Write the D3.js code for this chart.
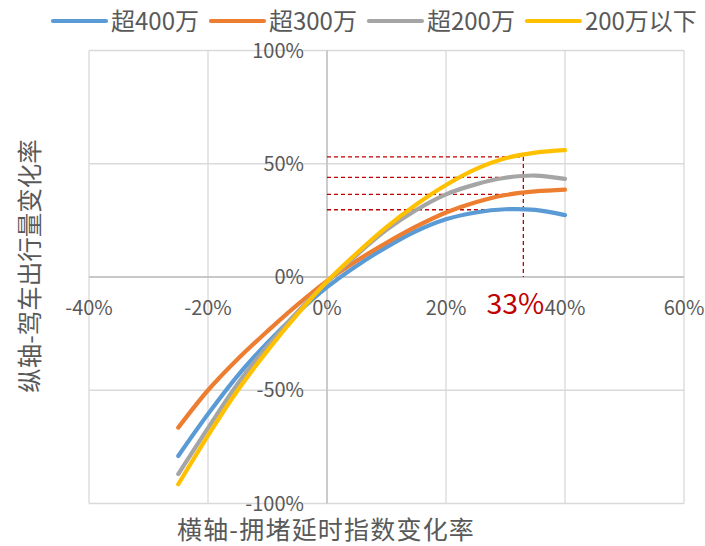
<!DOCTYPE html>
<html>
<head>
<meta charset="utf-8">
<script src="https://cdn.jsdelivr.net/npm/d3@7"></script>
<style>
  html, body { margin: 0; padding: 0; background: #ffffff; }
  svg { display: block; font-family: "Noto Sans CJK SC", "Noto Sans", sans-serif; }
</style>
</head>
<body>
<svg id="chart" width="705" height="546"></svg>
<script>
// Congestion-delay index change (x) vs. driving trip volume change (y), in %
const xValues = [-25, -20, -15, -10, -5, 0, 5, 10, 15, 20, 25, 30, 35, 40];
const seriesNames = ["超400万", "超300万", "超200万", "200万以下"];
const over400 = [-79, -60.5, -43.5, -29, -16, -4.5, 5, 13.2, 20.3, 25.5, 28.5, 29.9, 29.6, 27.3];
const over300 = [-66.5, -50, -36.2, -23.9, -12.3, -1.7, 7.2, 15.1, 22.3, 28.5, 33, 36.2, 37.8, 38.6];
const over200 = [-87, -66.7, -47.1, -30.5, -15.5, -2.2, 9.8, 20.8, 29.6, 36.5, 40.9, 43.8, 44.8, 43.3];
const under200 = [-91.5, -70, -50, -32.5, -16.5, -2, 10.5, 22, 32, 40.6, 47.6, 52.4, 54.9, 56];
const seriesColors = ["#5B9BD5", "#ED7D31", "#A5A5A5", "#FFC000"];

// Reference marker: x position and the four curve readings there
const markerX = 33;
const markerY = [29.7, 36.5, 44, 53];
const markerLabel = "33%";

const xTicks = [-40, -20, 0, 20, 40, 60];
const yTicks = [-100, -50, 0, 50, 100];
const xTitle = "横轴-拥堵延时指数变化率";
const yTitle = "纵轴-驾车出行量变化率";

const seriesValues = [over400, over300, over200, under200];

const svg = d3.select("#chart");
const x = d3.scaleLinear().domain([-40, 60]).range([89, 684]);
const y = d3.scaleLinear().domain([-100, 100]).range([503.5, 50.5]);
const pct = d => d + "%";

// Gridlines
const grid = svg.append("g").attr("stroke", "#D9D9D9").attr("stroke-width", 1.3);
grid.selectAll("line.v").data(xTicks).join("line")
  .attr("x1", d => x(d)).attr("x2", d => x(d))
  .attr("y1", y(100)).attr("y2", y(-100));
grid.selectAll("line.h").data(yTicks).join("line")
  .attr("x1", x(-40)).attr("x2", x(60))
  .attr("y1", d => y(d)).attr("y2", d => y(d));

// Zero axes
const axes = svg.append("g").attr("stroke", "#BFBFBF").attr("stroke-width", 1.3);
axes.append("line").attr("x1", x(0)).attr("x2", x(0)).attr("y1", y(100)).attr("y2", y(-100));
axes.append("line").attr("x1", x(-40)).attr("x2", x(60)).attr("y1", y(0)).attr("y2", y(0));

// Tick labels
const tickFont = 20;
svg.append("g").selectAll("text").data(yTicks).join("text")
  .attr("x", x(0) - 23).attr("y", d => y(d) + 7)
  .attr("text-anchor", "end").attr("font-size", tickFont).attr("fill", "#595959")
  .text(pct);
svg.append("g").selectAll("text").data(xTicks).join("text")
  .attr("x", d => x(d)).attr("y", y(0) + 38)
  .attr("text-anchor", "middle").attr("font-size", tickFont).attr("fill", "#595959")
  .text(pct);

// Dashed reference lines
const ref = svg.append("g").attr("stroke", "#C00000").attr("stroke-width", 1.3)
  .attr("stroke-dasharray", "4,3").attr("fill", "none");
ref.selectAll("line.h").data(markerY).join("line")
  .attr("x1", x(0)).attr("x2", x(markerX))
  .attr("y1", d => y(d)).attr("y2", d => y(d));
ref.append("line")
  .attr("x1", x(markerX)).attr("x2", x(markerX))
  .attr("y1", y(d3.max(markerY))).attr("y2", y(0));

// Curves
const line = d3.line()
  .x((d, i) => x(xValues[i]))
  .y(d => y(d))
  .curve(d3.curveCatmullRom.alpha(0.5));
svg.append("g").selectAll("path").data(seriesValues).join("path")
  .attr("d", d => line(d))
  .attr("fill", "none")
  .attr("stroke", (d, i) => seriesColors[i])
  .attr("stroke-width", 4.2)
  .attr("stroke-linecap", "round")
  .attr("stroke-linejoin", "round");

// Marker label
svg.append("text")
  .attr("x", x(markerX) - 8).attr("y", y(0) + 36.5)
  .attr("text-anchor", "middle").attr("font-size", 28.5).attr("fill", "#C00000")
  .text(markerLabel);

// Axis titles
svg.append("text")
  .attr("x", 326).attr("y", 539)
  .attr("text-anchor", "middle").attr("font-size", 25).attr("letter-spacing", 1.2)
  .attr("fill", "#595959")
  .text(xTitle);
svg.append("text")
  .attr("transform", "translate(39,266) rotate(-90)")
  .attr("text-anchor", "middle").attr("font-size", 24.5).attr("fill", "#595959")
  .text(yTitle);

// Legend
const legend = svg.append("g");
let lx = 53;
seriesNames.forEach((name, i) => {
  legend.append("line")
    .attr("x1", lx).attr("x2", lx + 53).attr("y1", 21).attr("y2", 21)
    .attr("stroke", seriesColors[i]).attr("stroke-width", 4.2).attr("stroke-linecap", "round");
  const t = legend.append("text")
    .attr("x", lx + 58).attr("y", 29.5)
    .attr("font-size", 24).attr("fill", "#595959")
    .text(name);
  lx += 58 + t.node().getComputedTextLength() + 12;
});
</script>
</body>
</html>
